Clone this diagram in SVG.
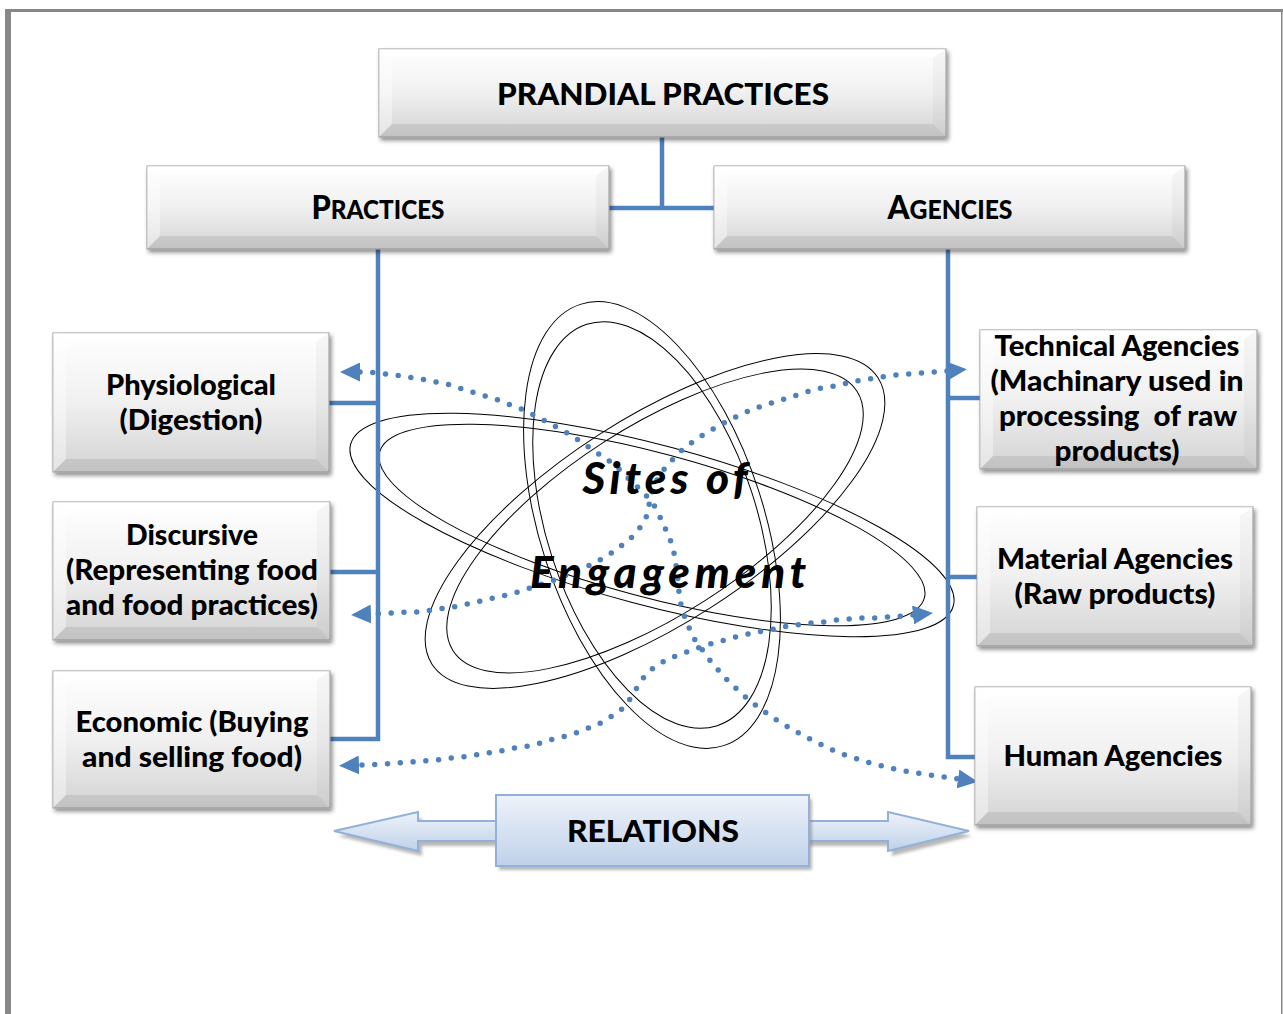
<svg xmlns="http://www.w3.org/2000/svg" width="1283" height="1014" viewBox="0 0 1283 1014">
  <defs>
    <linearGradient id="face" x1="0" y1="0" x2="0" y2="1">
      <stop offset="0" stop-color="#ffffff"/>
      <stop offset="0.5" stop-color="#f0f0f0"/>
      <stop offset="1" stop-color="#d3d3d3"/>
    </linearGradient>
    <linearGradient id="blueFace" x1="0" y1="0" x2="0" y2="1">
      <stop offset="0" stop-color="#eef3fa"/>
      <stop offset="1" stop-color="#bfd1e8"/>
    </linearGradient>
    <filter id="shadow" x="-10%" y="-10%" width="125%" height="135%">
      <feDropShadow dx="2" dy="3" stdDeviation="2" flood-color="#000" flood-opacity="0.45"/>
    </filter>
    <filter id="soft" x="-10%" y="-20%" width="120%" height="140%">
      <feGaussianBlur stdDeviation="1.5"/>
    </filter>
    <marker id="tri" viewBox="0 0 20 19" refX="0" refY="9.5" markerWidth="20" markerHeight="19" markerUnits="userSpaceOnUse" orient="auto-start-reverse">
      <path d="M0,0 L20,9.5 L0,19 z" fill="#4f81bd"/>
    </marker>
  </defs>
  <style>
    .frame { fill: #878787; }
    .face { fill: url(#face); stroke: #9c9c9c; stroke-width: 1; }
    .bt { fill: #ffffff; opacity: 0.6; }
    .bl { fill: #ffffff; opacity: 0.4; }
    .br { fill: #000000; opacity: 0.03; }
    .bb { fill: #000000; opacity: 0.08; }
    .box { filter: url(#shadow); }
    .lbl { font-family: Lato, "Liberation Sans", sans-serif; font-weight: 900; font-size: 28px; text-anchor: middle; fill: #000; }
    .big { font-size: 31px; }
    .link { fill: none; stroke: #4f81bd; stroke-width: 4.5; }
    .dots { fill: none; stroke: #4f81bd; stroke-width: 5.5; stroke-linecap: round; stroke-dasharray: 0 12.8; marker-start: url(#tri); marker-end: url(#tri); }
    .ring { fill: none; stroke: #000; stroke-width: 1; }
    .site { font-family: Lato, "Liberation Sans", sans-serif; font-weight: 900; font-style: italic; font-size: 44px; text-anchor: middle; fill: #000; }
    .rel { fill: url(#blueFace); stroke: #93b1d8; stroke-width: 2; }
    .relShadow { fill: #7f7f7f; opacity: 0.55; filter: url(#soft); }
  </style>

  <!-- page frame -->
  <rect class="frame" x="5" y="9" width="1278" height="3"/>
  <rect class="frame" x="5" y="9" width="6" height="1005"/>
  <rect class="frame" x="1281" y="9" width="1.5" height="1005"/>

  <!-- orbit rings -->
  <g id="sites-of-engagement">
    <g class="ring">
      <ellipse cx="652" cy="525" rx="312" ry="80" transform="rotate(15 652 525)"/>
      <ellipse cx="652" cy="525" rx="282" ry="72" transform="rotate(15 652 525)"/>
      <ellipse cx="652" cy="525" rx="112" ry="232" transform="rotate(-18 652 525)"/>
      <ellipse cx="652" cy="525" rx="105" ry="211" transform="rotate(-18 652 525)"/>
      <ellipse cx="655" cy="521" rx="265" ry="103" transform="rotate(-32.7 655 521)"/>
      <ellipse cx="655" cy="521" rx="240" ry="94" transform="rotate(-32.7 655 521)"/>
    </g>
  </g>

  <!-- connectors -->
  <g id="connectors">
    <path class="link" d="M662,137 V208 M609,208 H714"/>
    <path class="link" d="M378,249 V739 H330 M329,403 H378 M330,572 H378"/>
    <path class="link" d="M948,249 V757 H975 M948,398 H980 M948,577 H977"/>
    <path class="dots" d="M360,372 L368,372 L395,375 L421,379 L447,384 L472,392 L498,400 L524,410 L547,422 L571,435 L593,450 L615,465 L630,480 L644,493 L654,505 L660,517 L665,528 L670,539 L674,553 L676,565 L678,580 L679,592 L681,605 L685,618 L690,630 L696,642 L704,652 L712,663 L721,673 L730,683 L740,692 L750,701 L761,709 L772,717 L783,724 L795,731 L806,737 L818,743 L830,749 L842,754 L854,758 L870,763 L890,768 L910,772 L930,775 L958,779"/>
    <path class="dots" d="M947,371 L935,372 L921,373 L908,374 L895,375 L881,377 L869,379 L856,381 L843,384 L830,387 L816,389 L803,393 L791,397 L778,401 L765,405 L753,409 L740,415 L729,420 L717,427 L706,433 L694,441 L684,448 L674,458 L665,468 L657,480 L652,492 L649,505 L646,518 L639,529 L631,538 L621,546 L610,554 L598,561 L586,567 L573,573 L561,577 L549,582 L536,586 L524,590 L511,594 L498,597 L485,600 L472,603 L459,606 L446,608 L432,610 L419,612 L406,612 L393,613 L371,614"/>
    <path class="dots" d="M913,615 L903,616 L889,617 L876,618 L863,618 L850,619 L837,620 L823,622 L810,623 L797,625 L783,627 L770,630 L757,632 L744,635 L731,638 L718,642 L706,645 L693,650 L681,654 L668,659 L656,666 L646,674 L638,686 L630,699 L622,709 L612,716 L603,722 L591,727 L579,732 L566,736 L553,739 L541,743 L528,746 L515,748 L501,751 L488,753 L475,755 L462,757 L450,758 L437,760 L424,761 L411,762 L398,763 L385,764 L359,765"/>
  </g>

  <g id="sites-title">
    <text class="site" x="665" y="494" textLength="165" lengthAdjust="spacing">Sites of</text>
    <text class="site" x="668" y="588" textLength="276" lengthAdjust="spacing">Engagement</text>
  </g>

  <!-- top node -->
  <g id="prandial-practices">
    <g class="box">
      <rect class="face" x="379" y="49" width="567" height="88"/>
      <polygon class="bt" points="379,49 946,49 933,58 392,58"/>
      <polygon class="bl" points="379,49 392,58 392,124 379,137"/>
      <polygon class="br" points="946,49 946,137 933,124 933,58"/>
      <polygon class="bb" points="379,137 392,124 933,124 946,137"/>
    </g>
    <text class="lbl big" x="663" y="105" textLength="332" lengthAdjust="spacingAndGlyphs">PRANDIAL PRACTICES</text>
  </g>

  <g id="practices">
    <g class="box">
      <rect class="face" x="147" y="166" width="462" height="83"/>
      <polygon class="bt" points="147,166 609,166 596,175 160,175"/>
      <polygon class="bl" points="147,166 160,175 160,236 147,249"/>
      <polygon class="br" points="609,166 609,249 596,236 596,175"/>
      <polygon class="bb" points="147,249 160,236 596,236 609,249"/>
    </g>
    <text class="lbl" x="378" y="219" textLength="133" lengthAdjust="spacingAndGlyphs"><tspan font-size="33">P</tspan><tspan font-size="26">RACTICES</tspan></text>
  </g>

  <g id="agencies">
    <g class="box">
      <rect class="face" x="714" y="166" width="471" height="83"/>
      <polygon class="bt" points="714,166 1185,166 1172,175 727,175"/>
      <polygon class="bl" points="714,166 727,175 727,236 714,249"/>
      <polygon class="br" points="1185,166 1185,249 1172,236 1172,175"/>
      <polygon class="bb" points="714,249 727,236 1172,236 1185,249"/>
    </g>
    <text class="lbl" x="950" y="219" textLength="125" lengthAdjust="spacingAndGlyphs"><tspan font-size="33">A</tspan><tspan font-size="26">GENCIES</tspan></text>
  </g>

  <!-- practice nodes -->
  <g id="physiological">
    <g class="box">
      <rect class="face" x="53" y="333" width="276" height="139"/>
      <polygon class="bt" points="53,333 329,333 316,342 66,342"/>
      <polygon class="bl" points="53,333 66,342 66,459 53,472"/>
      <polygon class="br" points="329,333 329,472 316,459 316,342"/>
      <polygon class="bb" points="53,472 66,459 316,459 329,472"/>
    </g>
    <text class="lbl" x="191" y="395" textLength="170" lengthAdjust="spacingAndGlyphs">Physiological</text>
    <text class="lbl" x="191" y="430" textLength="143" lengthAdjust="spacingAndGlyphs">(Digestion)</text>
  </g>

  <g id="discursive">
    <g class="box">
      <rect class="face" x="53" y="502" width="277" height="138"/>
      <polygon class="bt" points="53,502 330,502 317,511 66,511"/>
      <polygon class="bl" points="53,502 66,511 66,627 53,640"/>
      <polygon class="br" points="330,502 330,640 317,627 317,511"/>
      <polygon class="bb" points="53,640 66,627 317,627 330,640"/>
    </g>
    <text class="lbl" x="192" y="545" textLength="132" lengthAdjust="spacingAndGlyphs">Discursive</text>
    <text class="lbl" x="192" y="580" textLength="252" lengthAdjust="spacingAndGlyphs">(Representing food</text>
    <text class="lbl" x="192" y="615" textLength="252" lengthAdjust="spacingAndGlyphs">and food practices)</text>
  </g>

  <g id="economic">
    <g class="box">
      <rect class="face" x="53" y="671" width="277" height="137"/>
      <polygon class="bt" points="53,671 330,671 317,680 66,680"/>
      <polygon class="bl" points="53,671 66,680 66,795 53,808"/>
      <polygon class="br" points="330,671 330,808 317,795 317,680"/>
      <polygon class="bb" points="53,808 66,795 317,795 330,808"/>
    </g>
    <text class="lbl" x="192" y="732" textLength="233" lengthAdjust="spacingAndGlyphs">Economic (Buying</text>
    <text class="lbl" x="192" y="767" textLength="220" lengthAdjust="spacingAndGlyphs">and selling food)</text>
  </g>

  <!-- agency nodes -->
  <g id="technical-agencies">
    <g class="box">
      <rect class="face" x="980" y="330" width="277" height="139"/>
      <polygon class="bt" points="980,330 1257,330 1244,339 993,339"/>
      <polygon class="bl" points="980,330 993,339 993,456 980,469"/>
      <polygon class="br" points="1257,330 1257,469 1244,456 1244,339"/>
      <polygon class="bb" points="980,469 993,456 1244,456 1257,469"/>
    </g>
    <text class="lbl" x="1117" y="356" textLength="245" lengthAdjust="spacingAndGlyphs">Technical Agencies</text>
    <text class="lbl" x="1117" y="391" textLength="253" lengthAdjust="spacingAndGlyphs">(Machinary used in</text>
    <text class="lbl" x="1118" y="426" textLength="238" lengthAdjust="spacingAndGlyphs" xml:space="preserve">processing  of raw</text>
    <text class="lbl" x="1117" y="461" textLength="125" lengthAdjust="spacingAndGlyphs">products)</text>
  </g>

  <g id="material-agencies">
    <g class="box">
      <rect class="face" x="977" y="507" width="276" height="139"/>
      <polygon class="bt" points="977,507 1253,507 1240,516 990,516"/>
      <polygon class="bl" points="977,507 990,516 990,633 977,646"/>
      <polygon class="br" points="1253,507 1253,646 1240,633 1240,516"/>
      <polygon class="bb" points="977,646 990,633 1240,633 1253,646"/>
    </g>
    <text class="lbl" x="1115" y="569" textLength="236" lengthAdjust="spacingAndGlyphs">Material Agencies</text>
    <text class="lbl" x="1115" y="604" textLength="201" lengthAdjust="spacingAndGlyphs">(Raw products)</text>
  </g>

  <g id="human-agencies">
    <g class="box">
      <rect class="face" x="975" y="687" width="276" height="138"/>
      <polygon class="bt" points="975,687 1251,687 1238,696 988,696"/>
      <polygon class="bl" points="975,687 988,696 988,812 975,825"/>
      <polygon class="br" points="1251,687 1251,825 1238,812 1238,696"/>
      <polygon class="bb" points="975,825 988,812 1238,812 1251,825"/>
    </g>
    <text class="lbl" x="1113" y="766" textLength="219" lengthAdjust="spacingAndGlyphs">Human Agencies</text>
  </g>

  <!-- relations double arrow with label box -->
  <g id="relations">
    <polygon class="relShadow" points="338,836 422,818 422,826 892,826 892,818 972,836 892,856 892,846 422,846 422,856"/>
    <polygon class="rel" points="334,831 418,812 418,821 888,821 888,812 969,831 888,851 888,841 418,841 418,851"/>
    <rect class="relShadow" x="499" y="799" width="313" height="71"/>
    <rect class="rel" x="496" y="795" width="313" height="71"/>
    <text class="lbl big" x="653" y="842" textLength="172" lengthAdjust="spacingAndGlyphs">RELATIONS</text>
  </g>
</svg>
